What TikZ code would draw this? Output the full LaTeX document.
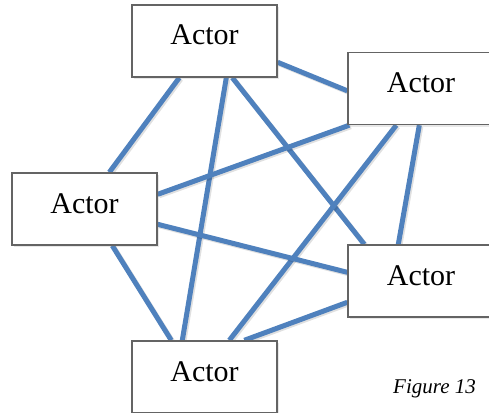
\documentclass[tikz,border=0pt]{standalone}
\usepackage{fontspec}
\setmainfont{Liberation Serif}
\usetikzlibrary{calc,backgrounds,shadows}
\definecolor{linkblue}{RGB}{79,129,189}
\definecolor{boxgray}{RGB}{100,100,100}
\tikzset{
  actor/.style={draw=boxgray, line width=1.4pt, fill=white, rectangle,
    minimum width=145pt, minimum height=72pt, inner sep=0pt,
    text height=20pt, text depth=12pt,
    font=\fontsize{30}{36}\selectfont,
    drop shadow={opacity=0.18, shadow xshift=2pt, shadow yshift=-2pt}},
  link/.style={draw=linkblue, line width=5pt,
    preaction={draw=black, opacity=0.12, line width=5pt, transform canvas={shift={(1.5pt,-1.5pt)}}}},
  caption/.style={font=\itshape\fontsize{21}{25}\selectfont, anchor=base, inner sep=0pt}
}
\begin{document}
\begin{tikzpicture}[x=1pt,y=-1pt]
\useasboundingbox (0,0) rectangle (489,412);
\node[actor] (top) at (204.5,41) {Actor};
\node[actor, minimum width=146pt] (rt) at (421,88.5) {Actor};
\node[actor] (left) at (84.5,209) {Actor};
\node[actor, minimum width=146pt] (rb) at (421,281) {Actor};
\node[actor] (bot) at (204.5,377) {Actor};
\node[caption] (fig) at (434.5,393) {Figure 13};
\begin{pgfonlayer}{background}
\draw[link] ($(top.south west)+(48,0)$) -- ($(left.north west)+(98,0)$);
\draw[link] ($(top.south west)+(95,0)$) -- ($(bot.north west)+(51,0)$);
\draw[link] ($(top.south west)+(101,0)$) -- ($(rb.north west)+(17,0)$);
\draw[link] ($(top.north east)+(0,58)$) -- ($(rt.north west)+(0,39)$);
\draw[link] ($(rt.south west)+(2,0)$) -- ($(left.north east)+(0,22)$);
\draw[link] ($(rt.south west)+(49,0)$) -- ($(bot.north west)+(98,0)$);
\draw[link] ($(rt.south west)+(72,0)$) -- ($(rb.north west)+(51,0)$);
\draw[link] ($(left.north east)+(0,52)$) -- ($(rb.north west)+(0,28)$);
\draw[link] ($(left.south west)+(101,0)$) -- ($(bot.north west)+(40,0)$);
\draw[link] ($(rb.north west)+(0,58)$) -- ($(bot.north west)+(113,0)$);
\end{pgfonlayer}
\end{tikzpicture}
\end{document}
